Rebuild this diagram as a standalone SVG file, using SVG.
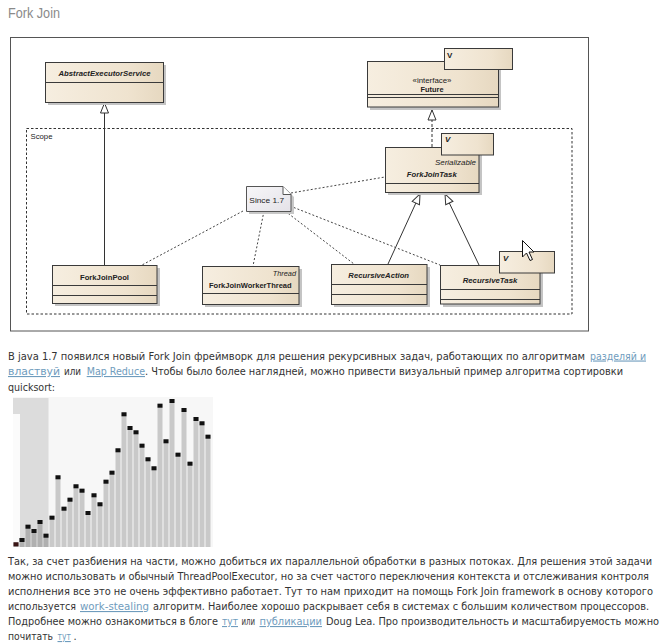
<svg xmlns="http://www.w3.org/2000/svg" width="671" height="643" viewBox="0 0 671 643">
<style>
.box{fill:url(#beige);stroke:#3a3a3a;stroke-width:1}
.shadow{fill:#c4c4c4}
.div{stroke:#3a3a3a;stroke-width:1}
.lbl{font-family:"Liberation Sans",Arial,sans-serif;font-size:8px;fill:#222}
.b{font-weight:bold}
.i{font-style:italic}
.gen{fill:none;stroke:#333;stroke-width:1;marker-end:url(#tri)}
.real{fill:none;stroke:#333;stroke-width:1;stroke-dasharray:3,2;marker-end:url(#tri)}
.note{fill:none;stroke:#444;stroke-width:1;stroke-dasharray:2,2}
.txt{font-family:"DejaVu Sans Condensed","DejaVu Sans",Verdana,sans-serif;font-stretch:condensed;font-size:11px;fill:#333}
.lnk{fill:#6f9cbd;text-decoration:underline}
.bar{fill:#c9c9c9}
.dbar{fill:#b0b0b0}
.sq{fill:#111}
</style>
<defs>
<linearGradient id="beige" x1="0" y1="0" x2="1" y2="0">
<stop offset="0" stop-color="#f6eee0"/>
<stop offset="0.7" stop-color="#efe3cf"/>
<stop offset="1" stop-color="#e6d8c0"/>
</linearGradient>
<linearGradient id="notefill" x1="0" y1="0" x2="1" y2="1">
<stop offset="0" stop-color="#f7f6f8"/>
<stop offset="1" stop-color="#e4e2e8"/>
</linearGradient>
<marker id="tri" markerUnits="userSpaceOnUse" markerWidth="12" markerHeight="10" refX="11" refY="5" orient="auto">
<path d="M1,1 L11,5 L1,9 Z" fill="#fff" stroke="#333" stroke-width="1"/>
</marker>
</defs>
<rect x="0" y="0" width="671" height="643" fill="#fff"/>
<text x="8" y="18" font-family="Liberation Sans,Arial,sans-serif" font-size="14" fill="#8a8a8a" textLength="52" lengthAdjust="spacingAndGlyphs">Fork Join</text>
<rect x="10.5" y="37.5" width="578" height="293.5" fill="#fff" stroke="#555" stroke-width="1"/>
<g id="scope">
<rect x="26.5" y="128.5" width="545.5" height="185.5" fill="none" stroke="#333" stroke-width="1" stroke-dasharray="2.5,2"/>
<text class="lbl" x="30.5" y="138.5" font-size="7.5" textLength="22" lengthAdjust="spacingAndGlyphs">Scope</text>
</g>
<g id="connectors">
<line class="gen" x1="104.5" y1="265" x2="104.5" y2="103"/>
<line class="real" x1="432" y1="147" x2="432" y2="110"/>
<line class="gen" x1="388" y1="264" x2="420" y2="194"/>
<line class="gen" x1="479" y1="265" x2="445" y2="194"/>
<line class="note" x1="243" y1="211" x2="142" y2="265"/>
<line class="note" x1="264" y1="211" x2="253" y2="266"/>
<line class="note" x1="285" y1="211" x2="354" y2="264"/>
<line class="note" x1="290" y1="206" x2="440" y2="265"/>
<line class="note" x1="291" y1="193" x2="385" y2="177"/>
</g>
<g id="AbstractExecutorService">
<rect class="shadow" x="48" y="65" width="118" height="40"/>
<rect class="box" x="45.5" y="62.5" width="118" height="40"/>
<line class="div" x1="45.5" y1="82.5" x2="163.5" y2="82.5"/>
<text class="lbl b i" x="104.5" y="75.5" text-anchor="middle" textLength="92" lengthAdjust="spacingAndGlyphs">AbstractExecutorService</text>
</g>
<g id="Future">
<rect class="shadow" x="370" y="64" width="131" height="46"/>
<rect class="box" x="367.5" y="61.5" width="131" height="45.5"/>
<line class="div" x1="367.5" y1="94.5" x2="498.5" y2="94.5"/>
<line class="div" x1="367.5" y1="97.5" x2="498.5" y2="97.5"/>
<text class="lbl" x="432" y="82.5" text-anchor="middle" font-size="6.5" textLength="39" lengthAdjust="spacingAndGlyphs">«interface»</text>
<text class="lbl b" x="432" y="92" text-anchor="middle" textLength="23" lengthAdjust="spacingAndGlyphs">Future</text>
<rect class="box" x="444.5" y="48.5" width="68" height="21"/>
<text class="lbl b" x="447" y="58">V</text>
</g>
<g id="ForkJoinTask">
<rect class="shadow" x="388" y="150" width="94" height="45"/>
<rect class="box" x="385.5" y="147.5" width="93.5" height="45"/>
<line class="div" x1="385.5" y1="183.5" x2="479" y2="183.5"/>
<text class="lbl i" x="476" y="165" text-anchor="end" textLength="41" lengthAdjust="spacingAndGlyphs">Serializable</text>
<text class="lbl b i" x="431.7" y="177" text-anchor="middle" textLength="50" lengthAdjust="spacingAndGlyphs">ForkJoinTask</text>
<rect class="box" x="441.5" y="133.5" width="52" height="21.5"/>
<text class="lbl b i" x="445" y="142">V</text>
</g>
<g id="Since17">
<path d="M249,189 H286 L294,197 V214 H249 Z" fill="#c8c8c8"/>
<path d="M246.5,186.5 H283 L291,194.5 V211.5 H246.5 Z" fill="url(#notefill)" stroke="#555" stroke-width="1"/>
<path d="M283,186.5 V194.5 H291" fill="#fff" stroke="#555" stroke-width="1"/>
<text class="lbl" x="266.7" y="203" text-anchor="middle" textLength="34.7" lengthAdjust="spacingAndGlyphs">Since 1.7</text>
</g>
<g id="ForkJoinPool">
<rect class="shadow" x="55" y="268" width="105" height="38"/>
<rect class="box" x="52.5" y="265.5" width="104.5" height="38"/>
<line class="div" x1="52.5" y1="285.5" x2="157" y2="285.5"/>
<line class="div" x1="52.5" y1="295.5" x2="157" y2="295.5"/>
<text class="lbl b" x="104.5" y="279.5" text-anchor="middle" textLength="49" lengthAdjust="spacingAndGlyphs">ForkJoinPool</text>
</g>
<g id="ForkJoinWorkerThread">
<rect class="shadow" x="205" y="269" width="97" height="38"/>
<rect class="box" x="202.5" y="266.5" width="96.5" height="38"/>
<line class="div" x1="202.5" y1="293.5" x2="299" y2="293.5"/>
<text class="lbl i" x="296" y="276" text-anchor="end" textLength="23.3" lengthAdjust="spacingAndGlyphs">Thread</text>
<text class="lbl b" x="250.3" y="288" text-anchor="middle" textLength="82.7" lengthAdjust="spacingAndGlyphs">ForkJoinWorkerThread</text>
</g>
<g id="RecursiveAction">
<rect class="shadow" x="334" y="267" width="96" height="40"/>
<rect class="box" x="331.5" y="264.5" width="95.5" height="40"/>
<line class="div" x1="331.5" y1="284.5" x2="427" y2="284.5"/>
<line class="div" x1="331.5" y1="294.5" x2="427" y2="294.5"/>
<text class="lbl b i" x="378.7" y="278" text-anchor="middle" textLength="60.7" lengthAdjust="spacingAndGlyphs">RecursiveAction</text>
</g>
<g id="RecursiveTask">
<rect class="shadow" x="443" y="268" width="100" height="39"/>
<rect class="box" x="440.5" y="265.5" width="99.5" height="38.5"/>
<line class="div" x1="440.5" y1="289.5" x2="540" y2="289.5"/>
<line class="div" x1="440.5" y1="299.5" x2="540" y2="299.5"/>
<text class="lbl b i" x="490" y="283" text-anchor="middle" textLength="54.7" lengthAdjust="spacingAndGlyphs">RecursiveTask</text>
<rect class="box" x="499.5" y="251.5" width="55" height="21.5"/>
<text class="lbl b i" x="503" y="261">V</text>
</g>
<g id="cursor">
<path d="M522.5,240.5 V257 L526.5,253 L530,260.5 L532.5,259.5 L529,252 L534,252 Z" fill="#fff" stroke="#111" stroke-width="1" stroke-linejoin="round"/>
</g>
<g id="para1" class="txt">
<text x="8" y="359.5" textLength="577" lengthAdjust="spacingAndGlyphs">В java 1.7 появился новый Fork Join фреймворк для решения рекурсивных задач, работающих по алгоритмам</text>
<text class="lnk" x="590" y="359.5" textLength="56" lengthAdjust="spacingAndGlyphs">разделяй и</text>
<text class="lnk" x="8" y="375" textLength="52" lengthAdjust="spacingAndGlyphs">властвуй</text>
<text x="64" y="375" textLength="17" lengthAdjust="spacingAndGlyphs">или</text>
<text class="lnk" x="86.7" y="375" textLength="58.3" lengthAdjust="spacingAndGlyphs">Map Reduce</text>
<text x="145" y="375" textLength="478" lengthAdjust="spacingAndGlyphs">. Чтобы было более наглядней, можно привести визуальный пример алгоритма сортировки</text>
<text x="8" y="390.5" textLength="47" lengthAdjust="spacingAndGlyphs">quicksort:</text>
</g>
<g id="chart">
<rect x="13" y="397" width="200" height="150" fill="#f7f7f7"/>
<rect x="13" y="398" width="35.5" height="149" fill="#dcdcdc"/>
<rect x="13" y="414" width="7" height="133" fill="#fbfbfb"/>
<g>
<rect class="dbar" x="13.5" y="542.3" width="5" height="4.7"/>
<rect class="dbar" x="19.5" y="538" width="5" height="9"/>
<rect class="dbar" x="25.5" y="524.7" width="5" height="22.3"/>
<rect class="dbar" x="31.5" y="529" width="5" height="18"/>
<rect class="dbar" x="37.5" y="520" width="5" height="27"/>
<rect class="dbar" x="43.5" y="533.7" width="5" height="13.3"/>
<rect class="bar" x="49.5" y="515.7" width="5" height="31.3"/>
<rect class="bar" x="55.5" y="475.3" width="5" height="71.7"/>
<rect class="bar" x="61.5" y="506.7" width="5" height="40.3"/>
<rect class="bar" x="67.5" y="497.7" width="5" height="49.3"/>
<rect class="bar" x="73.5" y="484.3" width="5" height="62.7"/>
<rect class="bar" x="79.5" y="488.7" width="5" height="58.3"/>
<rect class="bar" x="85.5" y="511" width="5" height="36"/>
<rect class="bar" x="91.5" y="493.3" width="5" height="53.7"/>
<rect class="bar" x="97.5" y="502.3" width="5" height="44.7"/>
<rect class="bar" x="103.5" y="479.7" width="5" height="67.3"/>
<rect class="bar" x="109.5" y="470.7" width="5" height="76.3"/>
<rect class="bar" x="115.5" y="448.3" width="5" height="98.7"/>
<rect class="bar" x="121.5" y="412.3" width="5" height="134.7"/>
<rect class="bar" x="127.5" y="426" width="5" height="121"/>
<rect class="bar" x="133.5" y="430.3" width="5" height="116.7"/>
<rect class="bar" x="139.5" y="443.7" width="5" height="103.3"/>
<rect class="bar" x="145.5" y="457.3" width="5" height="89.7"/>
<rect class="bar" x="151.5" y="466.3" width="5" height="80.7"/>
<rect class="bar" x="157.5" y="403.7" width="5" height="143.3"/>
<rect class="bar" x="163.5" y="439.3" width="5" height="107.7"/>
<rect class="bar" x="169.5" y="399" width="5" height="148"/>
<rect class="bar" x="175.5" y="452.7" width="5" height="94.3"/>
<rect class="bar" x="181.5" y="408" width="5" height="139"/>
<rect class="bar" x="187.5" y="461.7" width="5" height="85.3"/>
<rect class="bar" x="193.5" y="417" width="5" height="130"/>
<rect class="bar" x="199.5" y="421.3" width="5" height="125.7"/>
<rect class="bar" x="205.5" y="434.7" width="5" height="112.3"/>
</g>
<g>
<rect x="13.5" y="542.3" width="5" height="4" fill="#3a1515"/>
<rect class="sq" x="19.5" y="538" width="5" height="4"/>
<rect class="sq" x="25.5" y="524.7" width="5" height="4"/>
<rect class="sq" x="31.5" y="529" width="5" height="4"/>
<rect class="sq" x="37.5" y="520" width="5" height="4"/>
<rect class="sq" x="43.5" y="533.7" width="5" height="4"/>
<rect class="sq" x="49.5" y="515.7" width="5" height="4"/>
<rect class="sq" x="55.5" y="475.3" width="5" height="4"/>
<rect class="sq" x="61.5" y="506.7" width="5" height="4"/>
<rect class="sq" x="67.5" y="497.7" width="5" height="4"/>
<rect class="sq" x="73.5" y="484.3" width="5" height="4"/>
<rect class="sq" x="79.5" y="488.7" width="5" height="4"/>
<rect class="sq" x="85.5" y="511" width="5" height="4"/>
<rect class="sq" x="91.5" y="493.3" width="5" height="4"/>
<rect class="sq" x="97.5" y="502.3" width="5" height="4"/>
<rect class="sq" x="103.5" y="479.7" width="5" height="4"/>
<rect class="sq" x="109.5" y="470.7" width="5" height="4"/>
<rect class="sq" x="115.5" y="448.3" width="5" height="4"/>
<rect class="sq" x="121.5" y="412.3" width="5" height="4"/>
<rect class="sq" x="127.5" y="426" width="5" height="4"/>
<rect class="sq" x="133.5" y="430.3" width="5" height="4"/>
<rect class="sq" x="139.5" y="443.7" width="5" height="4"/>
<rect class="sq" x="145.5" y="457.3" width="5" height="4"/>
<rect class="sq" x="151.5" y="466.3" width="5" height="4"/>
<rect class="sq" x="157.5" y="403.7" width="5" height="4"/>
<rect class="sq" x="163.5" y="439.3" width="5" height="4"/>
<rect class="sq" x="169.5" y="399" width="5" height="4"/>
<rect class="sq" x="175.5" y="452.7" width="5" height="4"/>
<rect class="sq" x="181.5" y="408" width="5" height="4"/>
<rect class="sq" x="187.5" y="461.7" width="5" height="4"/>
<rect class="sq" x="193.5" y="417" width="5" height="4"/>
<rect class="sq" x="199.5" y="421.3" width="5" height="4"/>
<rect class="sq" x="205.5" y="434.7" width="5" height="4"/>
</g>
</g>
<g id="para2" class="txt">
<text x="8" y="565" textLength="644" lengthAdjust="spacingAndGlyphs">Так, за счет разбиения на части, можно добиться их параллельной обработки в разных потоках. Для решения этой задачи</text>
<text x="8" y="580" textLength="641" lengthAdjust="spacingAndGlyphs">можно использовать и обычный ThreadPoolExecutor, но за счет частого переключения контекста и отслеживания контроля</text>
<text x="8" y="595" textLength="645" lengthAdjust="spacingAndGlyphs">исполнения все это не очень эффективно работает. Тут то нам приходит на помощь Fork Join framework в основу которого</text>
<text x="8" y="610" textLength="68" lengthAdjust="spacingAndGlyphs">используется</text>
<text class="lnk" x="80" y="610" textLength="69" lengthAdjust="spacingAndGlyphs">work-stealing</text>
<text x="153" y="610" textLength="496" lengthAdjust="spacingAndGlyphs">алгоритм. Наиболее хорошо раскрывает себя в системах с большим количеством процессоров.</text>
<text x="8" y="625" textLength="210" lengthAdjust="spacingAndGlyphs">Подробнее можно ознакомиться в блоге</text>
<text class="lnk" x="222" y="625" textLength="16" lengthAdjust="spacingAndGlyphs">тут</text>
<text x="241.5" y="625" textLength="13.5" lengthAdjust="spacingAndGlyphs">или</text>
<text class="lnk" x="259.5" y="625" textLength="62.5" lengthAdjust="spacingAndGlyphs">публикации</text>
<text x="326" y="625" textLength="333" lengthAdjust="spacingAndGlyphs">Doug Lea. Про производительность и масштабируемость можно</text>
<text x="8" y="640" textLength="45" lengthAdjust="spacingAndGlyphs">почитать</text>
<text class="lnk" x="57.5" y="640" textLength="13.3" lengthAdjust="spacingAndGlyphs">тут</text>
<text x="73.5" y="640">.</text>
</g>
</svg>
